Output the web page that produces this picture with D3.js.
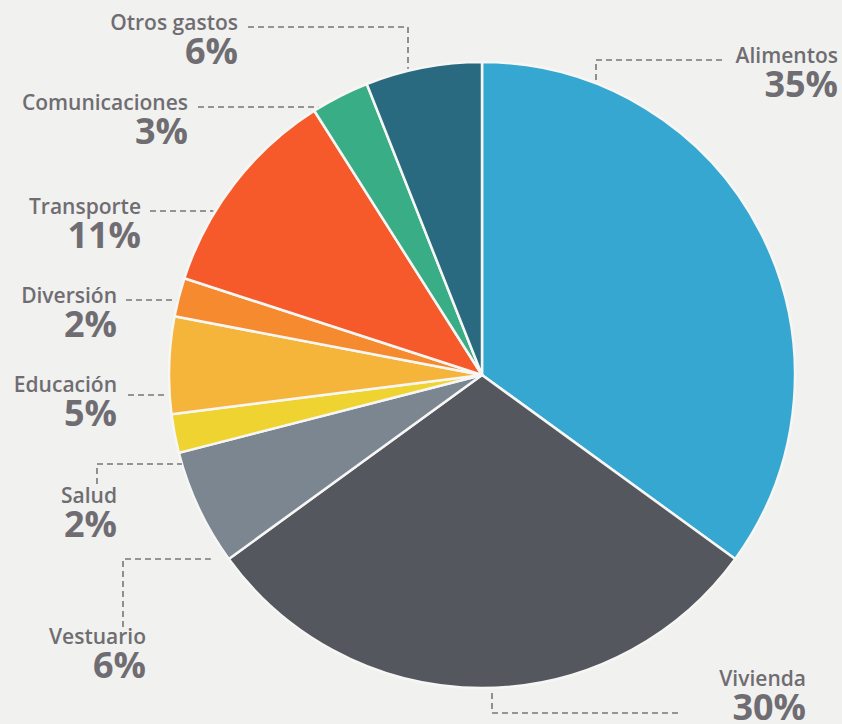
<!DOCTYPE html>
<html>
<head>
<meta charset="utf-8">
<script src="https://cdn.jsdelivr.net/npm/d3@7"></script>
<style>
  html, body { margin: 0; padding: 0; background: #f1f1ef; }
  svg { display: block; }
</style>
</head>
<body>
<script>
// data, clockwise from 12 o'clock
const categories = ["Alimentos", "Vivienda", "Vestuario", "Salud", "Educación",
                    "Diversión", "Transporte", "Comunicaciones", "Otros gastos"];
const values = [35, 30, 6, 2, 5, 2, 11, 3, 6];
const palette = ["#36a7d0", "#55575e", "#7c8690", "#efd331", "#f5b43a",
                 "#f58a2e", "#f65a2b", "#39ad85", "#2a6a80"];

var width = 842, height = 724;
var cx = 482, cy = 375, r = 313;

var svg = d3.select("body").append("svg")
    .attr("width", width)
    .attr("height", height);

var data = categories.map(function(c, i) {
    return {name: c, value: values[i], color: palette[i]};
});

var pie = d3.pie().sort(null).value(function(d) { return d.value; });
var arc = d3.arc().innerRadius(0).outerRadius(r);

var g = svg.append("g").attr("transform", "translate(" + cx + "," + cy + ")");

g.selectAll("path.slice")
    .data(pie(data))
    .enter().append("path")
        .attr("class", "slice")
        .attr("d", arc)
        .attr("fill", function(d) { return d.data.color; })
        .attr("stroke", "#f6f6f4")
        .attr("stroke-width", 2.5)
        .attr("stroke-linejoin", "round");

// label layout: text anchor point and leader shape
// h = horizontal line toward the pie, elbow* = line with a vertical part
var labelLayout = {
    "Otros gastos":   {x: 238, y: 30,  line: "elbowDown", lx: 248, ly: 27, vx: 408},
    "Comunicaciones": {x: 188, y: 110, line: "h", lx: 198, ly: 107, gap: 2},
    "Transporte":     {x: 141, y: 214, line: "h", lx: 150, ly: 211, gap: 2},
    "Diversión":      {x: 117, y: 303, line: "h", lx: 126, ly: 300, gap: 2},
    "Educación":      {x: 117, y: 392, line: "h", lx: 128, ly: 395, gap: 2},
    "Salud":          {x: 117, y: 503, line: "elbowUp", lx: 97, ly: 464, vy: 484, gap: 0},
    "Vestuario":      {x: 146, y: 644, line: "elbowUp", lx: 123, ly: 559, vy: 627, gap: 18},
    "Alimentos":      {x: 838, y: 63,  line: "elbowDown", lx: 722, ly: 60, vx: 596},
    "Vivienda":       {x: 806, y: 686, line: "elbowUpB", lx: 678, ly: 713, vx: 492}
};

function edgeX(y) { return cx - Math.sqrt(r * r - (y - cy) * (y - cy)); }
function edgeYTop(x) { return cy - Math.sqrt(r * r - (x - cx) * (x - cx)); }

var lines = svg.append("g")
    .attr("fill", "none")
    .attr("stroke", "#77767a")
    .attr("stroke-width", 1.6)
    .attr("stroke-dasharray", "6,4");

var labels = svg.append("g");

data.forEach(function(d) {
    var L = labelLayout[d.name];
    var pts;
    if (L.line === "h") {
        pts = [[L.lx, L.ly], [edgeX(L.ly) - L.gap, L.ly]];
    } else if (L.line === "elbowUp") {
        pts = [[L.lx, L.vy], [L.lx, L.ly], [edgeX(L.ly) - L.gap, L.ly]];
    } else if (L.line === "elbowDown") {
        pts = [[L.lx, L.ly], [L.vx, L.ly], [L.vx, edgeYTop(L.vx) - 2]];
    } else if (L.line === "elbowUpB") {
        pts = [[L.lx, L.ly], [L.vx, L.ly], [L.vx, cy + r + 5]];
    }
    lines.append("path").attr("d", d3.line()(pts));

    var t = labels.append("text")
        .attr("x", L.x)
        .attr("y", L.y)
        .attr("text-anchor", "end")
        .attr("fill", "#6f6d72")
        .attr("font-family", "'Open Sans', 'Noto Sans', sans-serif");
    t.append("tspan")
        .attr("x", L.x)
        .attr("font-size", 21)
        .attr("font-weight", 600)
        .text(d.name);
    t.append("tspan")
        .attr("x", L.x)
        .attr("dy", 34)
        .attr("font-size", 36)
        .attr("font-weight", 700)
        .text(d.value + "%");
});
</script>
</body>
</html>
